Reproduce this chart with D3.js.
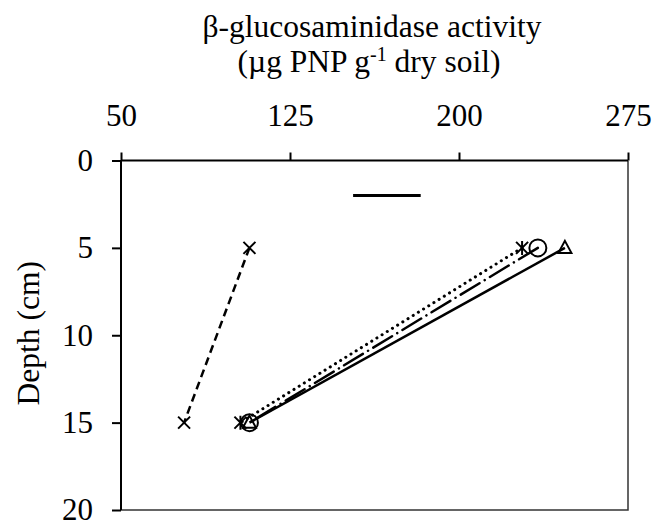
<!DOCTYPE html>
<html>
<head>
<meta charset="utf-8">
<script src="https://cdn.jsdelivr.net/npm/d3@7/dist/d3.min.js"></script>
<style>
  html, body { margin: 0; padding: 0; background: #fff; }
  svg text { font-family: "Liberation Serif", "Times New Roman", serif; fill: #000; }
</style>
</head>
<body>
<svg id="chart" width="654" height="527"></svg>
<script>
// ---- data ----
const depths = [5, 15];
const seriesNames = ["Dashed ×", "Dotted ✱", "Long dash-dot ○", "Solid △"];
const valuesDashedX = [107, 78];
const valuesDottedStar = [228, 103];
const valuesDashDotCircle = [235, 107];
const valuesSolidTriangle = [247, 107];
const xTicks = [50, 125, 200, 275];
const yTicks = [0, 5, 10, 15, 20];
const lsdDepth = 2;
const lsdRange = [153, 183];

(function () {
// ---- styles (kept apart from data) ----
const styles = [
  { values: valuesDashedX, dash: "8,5", cap: "butt", marker: "x" },
  { values: valuesDottedStar, dash: "0.1,6", cap: "round", marker: "star" },
  { values: valuesDashDotCircle, dash: "22,6,0.1,6", cap: "round", marker: "circle" },
  { values: valuesSolidTriangle, dash: null, cap: "butt", marker: "triangle" }
];

const svg = d3.select("#chart");
const pLeft = 121, pRight = 628, pTop = 160.5, pBottom = 510;
const x = d3.scaleLinear().domain([50, 275]).range([pLeft, pRight]);
const y = d3.scaleLinear().domain([0, 20]).range([pTop, pBottom]);

// plot area border (right & bottom)
svg.append("path")
  .attr("d", `M${pRight},${pTop}V${pBottom}H${pLeft}`)
  .attr("fill", "none").attr("stroke", "#333").attr("stroke-width", 1.5);

// axes
const xAxis = d3.axisTop(x).tickValues(xTicks).tickSize(8).tickPadding(27).tickFormat(d3.format("d"));
const gx = svg.append("g").attr("transform", `translate(0,${pTop})`).call(xAxis);
const yAxis = d3.axisLeft(y).tickValues(yTicks).tickSize(9).tickPadding(19).tickFormat(d3.format("d"));
const gy = svg.append("g").attr("transform", `translate(${pLeft},0)`).call(yAxis);
[gx, gy].forEach(g => {
  g.select(".domain").attr("stroke", "#000").attr("stroke-width", 2);
  g.selectAll(".tick line").attr("stroke", "#000").attr("stroke-width", 2);
  g.selectAll(".tick text").style("font-family", "Liberation Serif").style("font-size", "31px").attr("fill", "#000");
});
gx.select(".domain").attr("d", `M${pLeft},0H${pRight}`);
gy.select(".domain").attr("d", `M0,${pTop}V${pBottom}`);

// titles
const title = svg.append("text").attr("text-anchor", "middle").style("font-size", "31.5px");
title.append("tspan").attr("x", 372).attr("y", 37).text("β-glucosaminidase activity");
const t2 = svg.append("text").attr("text-anchor", "middle").attr("x", 369).attr("y", 72).style("font-size", "31.5px");
t2.append("tspan").text("(µg PNP g");
t2.append("tspan").attr("dy", -11).style("font-size", "20px").text("-1");
t2.append("tspan").attr("dy", 11).text(" dry soil)");

svg.append("text").attr("transform", `translate(39,${(pTop + pBottom) / 2 - 2}) rotate(-90)`)
  .attr("text-anchor", "middle").style("font-size", "31.5px").text("Depth (cm)");

// LSD bar
svg.append("line")
  .attr("x1", x(lsdRange[0])).attr("x2", x(lsdRange[1]))
  .attr("y1", y(lsdDepth)).attr("y2", y(lsdDepth))
  .attr("stroke", "#000").attr("stroke-width", 3);

// series lines
const line = d3.line().x(d => x(d[0])).y(d => y(d[1]));
styles.forEach(s => {
  const pts = s.values.map((v, i) => [v, depths[i]]);
  svg.append("path").attr("d", line(pts)).attr("fill", "none")
    .attr("stroke", "#000").attr("stroke-width", s.marker === "star" ? 3 : 2.5)
    .attr("stroke-dasharray", s.dash)
    .attr("stroke-linecap", s.cap);
});

// markers
function drawMarker(type, cx, cy) {
  const g = svg.append("g").attr("transform", `translate(${cx},${cy})`);
  if (type === "x" || type === "star") {
    const r = 6;
    let d = `M${-r},${-r}L${r},${r}M${-r},${r}L${r},${-r}`;
    if (type === "star") d += `M0,${-r - 1}L0,${r + 1}`;
    g.append("path").attr("d", d).attr("stroke", "#000").attr("stroke-width", 2);
  } else if (type === "circle") {
    g.append("circle").attr("r", 8.5).attr("fill", "none").attr("stroke", "#000").attr("stroke-width", 2);
  } else if (type === "triangle") {
    g.append("path").attr("d", "M0,-7L6.5,5L-6.5,5Z").attr("fill", "none").attr("stroke", "#000").attr("stroke-width", 2);
  }
}
styles.forEach(s => {
  s.values.forEach((v, i) => drawMarker(s.marker, x(v), y(depths[i])));
});
})();
</script>
</body>
</html>
